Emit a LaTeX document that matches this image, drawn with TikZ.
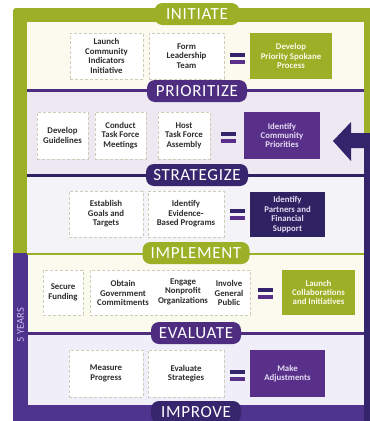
\documentclass[tikz,border=0pt]{standalone}
\usepackage{fontspec}
\usetikzlibrary{calc}
\setmainfont{Carlito}
\newfontfamily\pillfont[LetterSpace=4]{Carlito}
\definecolor{olive}{RGB}{155,176,38}
\definecolor{framep}{RGB}{78,52,140}
\definecolor{arrowc}{RGB}{52,36,108}
\definecolor{boxp}{RGB}{88,48,138}
\definecolor{boxn}{RGB}{46,34,98}
\definecolor{pillp}{RGB}{78,44,128}
\definecolor{pilln}{RGB}{55,38,110}
\definecolor{cream}{RGB}{250,250,238}
\definecolor{lav}{RGB}{238,232,243}
\definecolor{lightl}{RGB}{244,243,248}
\definecolor{lav2}{RGB}{240,238,248}
\definecolor{boxline}{RGB}{205,205,185}
\definecolor{txt}{RGB}{45,45,45}
\definecolor{ptxt}{RGB}{228,220,242}
\definecolor{gtxt}{RGB}{250,250,235}
\definecolor{yrs}{RGB}{200,186,238}
\begin{document}
\begin{tikzpicture}[x=1pt,y=-1pt,
  boxfont/.style={font=\bfseries\fontsize{8.8}{9.4}\selectfont},
  box/.style={fill=white, draw=boxline, densely dashed, line width=0.4pt, align=center,
    boxfont, text=txt, inner sep=1pt},
  gbox/.style={fill=olive, draw=none, align=center, boxfont, text=gtxt, inner sep=1pt},
  pbox/.style={fill=boxp, draw=none, align=center, boxfont, text=ptxt, inner sep=1pt},
  nbox/.style={fill=boxn, draw=none, align=center, boxfont, text=ptxt, inner sep=1pt},
  plain/.style={align=center, boxfont, text=txt, inner sep=0pt},
  pill/.style={rounded corners=8pt, text=white, inner sep=0pt,
    font=\pillfont\fontsize{17}{17}\selectfont, minimum height=22},
  eqbar/.style={fill=arrowc},
  divider/.style={line width=2.5pt, draw=pillp}
]
\useasboundingbox (0,0) rectangle (370,421);
\fill[white] (0,0) rectangle (370,421);
% frames
\fill[olive, rounded corners=3pt] (13,8) rectangle (376,256);
\fill[framep] (13,253) rectangle (376,426);
% panels
\fill[cream] (27,22) rectangle (364,90);
\fill[lav] (27,91) rectangle (364,175);
\fill[lightl] (27,176) rectangle (364,253);
\fill[cream] (28,254) rectangle (364,333);
\fill[lav2] (28,334) rectangle (364,405);
% dividers
\draw[divider] (27,90.5) -- (364,90.5);
\draw[divider, draw=boxn] (27,175.5) -- (364,175.5);
\draw[line width=2pt, draw=olive] (27,253.5) -- (364,253.5);
\draw[divider] (28,333.5) -- (364,333.5);
% return arrow
\coordinate (arrTip) at (333,141);
\fill[arrowc] (372,133) -- (351,133) -- (351,122) -- (arrTip) -- (351,161) -- (351,148) -- (364,148) -- (364,426) -- (372,426) -- cycle;
% pills
\node[pill, fill=olive, minimum width=85] (pInit) at (197,14) {INITIATE};
\node[pill, fill=pillp, minimum width=100] (pPrio) at (197,91) {PRIORITIZE};
\node[pill, fill=pilln, minimum width=102] (pStrat) at (197,175) {STRATEGIZE};
\node[pill, fill=olive, minimum width=107] (pImpl) at (196,253) {IMPLEMENT};
\node[pill, fill=pillp, minimum width=90] (pEval) at (196,333) {EVALUATE};
\node[pill, fill=pilln, minimum width=90] (pImpr) at (196,412) {IMPROVE};
% 5 years
\node[rotate=90, text=yrs, font=\fontsize{10.5}{10.5}\selectfont, inner sep=0pt] (yrs) at (20.5,325) {5 YEARS};
% row 1
\node[box, minimum width=73, minimum height=46] (a1) at (106.5,56) {Launch\\Community\\Indicators\\Initiative};
\node[box, minimum width=75, minimum height=46] (a2) at (186.5,56) {Form\\Leadership\\Team};
\coordinate (eq1) at (237.5,58);
\node[gbox, minimum width=82, minimum height=46] (a3) at (291,56) {Develop\\Priority Spokane\\Process};
% row 2
\node[box, minimum width=51, minimum height=47] (b1) at (62.5,135.5) {Develop\\Guidelines};
\node[box, minimum width=51, minimum height=47] (b2) at (120.5,135.5) {Conduct\\Task Force\\Meetings};
\node[box, minimum width=52, minimum height=47] (b3) at (184,135.5) {Host\\Task Force\\Assembly};
\coordinate (eq2) at (228,137);
\node[pbox, minimum width=76, minimum height=47] (b4) at (282,135.5) {Identify\\Community\\Priorities};
% row 3
\node[box, minimum width=74, minimum height=46] (c1) at (106,214) {Establish\\Goals and\\Targets};
\node[box, minimum width=76, minimum height=46] (c2) at (186,214) {Identify\\Evidence-\\Based Programs};
\coordinate (eq3) at (237.5,214);
\node[nbox, minimum width=75, minimum height=45] (c3) at (287.5,214.5) {Identify\\Partners and\\Financial\\Support};
% row 4
\node[box, minimum width=40, minimum height=45] (d1) at (63,292.5) {Secure\\Funding};
\node[box, minimum width=160, minimum height=45] (d2) at (170,292.5) {};
\node[plain] (d2a) at (123,293) {Obtain\\Government\\Commitments};
\node[plain] (d2b) at (183,291.5) {Engage\\Nonprofit\\Organizations};
\node[plain] (d2c) at (229,293) {Involve\\General\\Public};
\coordinate (eq4) at (265,293);
\node[gbox, minimum width=73, minimum height=45] (d3) at (318.5,292.5) {Launch\\Collaborations\\and Initiatives};
% row 5
\node[box, minimum width=74, minimum height=47] (e1) at (106,373.5) {Measure\\Progress};
\node[box, minimum width=76, minimum height=47] (e2) at (186,373.5) {Evaluate\\Strategies};
\coordinate (eq5) at (237.5,375);
\node[pbox, minimum width=75, minimum height=47] (e3) at (287.5,373.5) {Make\\Adjustments};
% equals signs
\foreach \e in {eq1,eq2,eq3,eq4,eq5}{
  \fill[eqbar] ($(\e)+(-7.5,-5.5)$) rectangle ($(\e)+(7.5,-1.5)$);
  \fill[eqbar, fill=boxp] ($(\e)+(-7.5,1.5)$) rectangle ($(\e)+(7.5,5.5)$);
}
\end{tikzpicture}
\end{document}
